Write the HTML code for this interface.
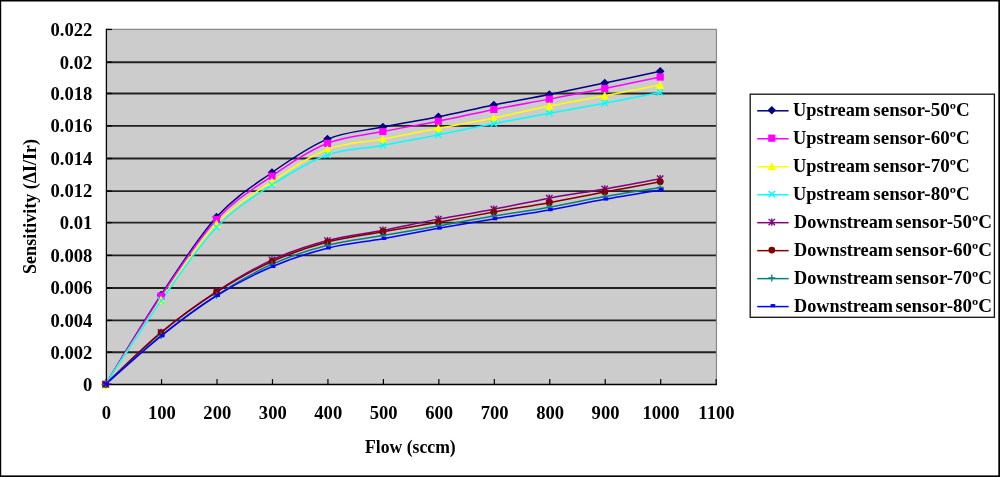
<!DOCTYPE html>
<html><head><meta charset="utf-8"><title>Sensitivity vs Flow</title>
<style>html,body{margin:0;padding:0;background:#fff;width:1000px;height:477px;overflow:hidden}</style>
</head><body>
<svg width="1000" height="477" viewBox="0 0 1000 477" style="display:block">
<rect x="0" y="0" width="1000" height="477" fill="#fff"/>
<rect x="106.4" y="29.44" width="610.06" height="354.86" fill="#CCCCCC"/>
<line x1="106.4" y1="352.2" x2="716.46" y2="352.2" stroke="#222" stroke-width="1.9"/>
<line x1="106.4" y1="320.4" x2="716.46" y2="320.4" stroke="#222" stroke-width="1.9"/>
<line x1="106.4" y1="288" x2="716.46" y2="288" stroke="#222" stroke-width="1.9"/>
<line x1="106.4" y1="255.4" x2="716.46" y2="255.4" stroke="#222" stroke-width="1.9"/>
<line x1="106.4" y1="222.6" x2="716.46" y2="222.6" stroke="#222" stroke-width="1.9"/>
<line x1="106.4" y1="191.1" x2="716.46" y2="191.1" stroke="#222" stroke-width="1.9"/>
<line x1="106.4" y1="158.5" x2="716.46" y2="158.5" stroke="#222" stroke-width="1.9"/>
<line x1="106.4" y1="125.9" x2="716.46" y2="125.9" stroke="#222" stroke-width="1.9"/>
<line x1="106.4" y1="93.45" x2="716.46" y2="93.45" stroke="#222" stroke-width="1.9"/>
<line x1="106.4" y1="62.2" x2="716.46" y2="62.2" stroke="#222" stroke-width="1.9"/>
<path d="M106.4,29.44 H716.46 V384.3" fill="none" stroke="#888" stroke-width="1.2"/>
<line x1="106.4" y1="28.84" x2="106.4" y2="384.3" stroke="#000" stroke-width="1.3"/>
<line x1="106.4" y1="384.5" x2="716.96" y2="384.5" stroke="#000" stroke-width="1.5"/>
<line x1="106.4" y1="384.3" x2="111.9" y2="384.3" stroke="#000" stroke-width="1.3"/>
<line x1="106.4" y1="352.2" x2="111.9" y2="352.2" stroke="#000" stroke-width="1.3"/>
<line x1="106.4" y1="320.4" x2="111.9" y2="320.4" stroke="#000" stroke-width="1.3"/>
<line x1="106.4" y1="288" x2="111.9" y2="288" stroke="#000" stroke-width="1.3"/>
<line x1="106.4" y1="255.4" x2="111.9" y2="255.4" stroke="#000" stroke-width="1.3"/>
<line x1="106.4" y1="222.6" x2="111.9" y2="222.6" stroke="#000" stroke-width="1.3"/>
<line x1="106.4" y1="191.1" x2="111.9" y2="191.1" stroke="#000" stroke-width="1.3"/>
<line x1="106.4" y1="158.5" x2="111.9" y2="158.5" stroke="#000" stroke-width="1.3"/>
<line x1="106.4" y1="125.9" x2="111.9" y2="125.9" stroke="#000" stroke-width="1.3"/>
<line x1="106.4" y1="93.45" x2="111.9" y2="93.45" stroke="#000" stroke-width="1.3"/>
<line x1="106.4" y1="62.2" x2="111.9" y2="62.2" stroke="#000" stroke-width="1.3"/>
<line x1="106.4" y1="29.45" x2="111.9" y2="29.45" stroke="#000" stroke-width="1.3"/>
<line x1="106.1" y1="384.3" x2="106.1" y2="379.1" stroke="#000" stroke-width="1.2"/>
<line x1="161.56" y1="384.3" x2="161.56" y2="379.1" stroke="#000" stroke-width="1.2"/>
<line x1="217.02" y1="384.3" x2="217.02" y2="379.1" stroke="#000" stroke-width="1.2"/>
<line x1="272.48" y1="384.3" x2="272.48" y2="379.1" stroke="#000" stroke-width="1.2"/>
<line x1="327.94" y1="384.3" x2="327.94" y2="379.1" stroke="#000" stroke-width="1.2"/>
<line x1="383.4" y1="384.3" x2="383.4" y2="379.1" stroke="#000" stroke-width="1.2"/>
<line x1="438.86" y1="384.3" x2="438.86" y2="379.1" stroke="#000" stroke-width="1.2"/>
<line x1="494.32" y1="384.3" x2="494.32" y2="379.1" stroke="#000" stroke-width="1.2"/>
<line x1="549.78" y1="384.3" x2="549.78" y2="379.1" stroke="#000" stroke-width="1.2"/>
<line x1="605.24" y1="384.3" x2="605.24" y2="379.1" stroke="#000" stroke-width="1.2"/>
<line x1="660.7" y1="384.3" x2="660.7" y2="379.1" stroke="#000" stroke-width="1.2"/>
<line x1="716.16" y1="384.3" x2="716.16" y2="379.1" stroke="#000" stroke-width="1.2"/>
<path d="M105.6,384.3 C114.84,369.41 142.57,322.82 161.06,294.94 C179.55,267.06 198.03,237.44 216.52,217.03 C235.01,196.63 253.49,185.5 271.98,172.51 C290.47,159.53 308.95,146.71 327.44,139.12 C345.93,131.54 364.41,130.76 382.9,127.03 C401.39,123.29 419.87,120.39 438.36,116.7 C456.85,113.02 475.33,108.64 493.82,104.93 C512.31,101.22 530.79,98.1 549.28,94.44 C567.77,90.79 586.25,86.86 604.74,82.99 C623.23,79.12 650.96,73.18 660.2,71.22" fill="none" stroke="#000080" stroke-width="1.5" stroke-linejoin="round"/>
<path d="M105.6,384.3 C114.84,369.59 142.57,323.54 161.06,296.07 C179.55,268.59 198.03,239.45 216.52,219.45 C235.01,199.45 253.49,188.75 271.98,176.06 C290.47,163.37 308.95,150.74 327.44,143.32 C345.93,135.9 364.41,135.23 382.9,131.54 C401.39,127.86 419.87,124.9 438.36,121.22 C456.85,117.54 475.33,113.13 493.82,109.44 C512.31,105.76 530.79,102.62 549.28,99.12 C567.77,95.63 586.25,92.16 604.74,88.48 C623.23,84.79 650.96,78.93 660.2,77.02" fill="none" stroke="#FF00FF" stroke-width="1.5" stroke-linejoin="round"/>
<path d="M105.6,384.3 C114.84,370.21 142.57,326.53 161.06,299.78 C179.55,273.03 198.03,243.49 216.52,223.81 C235.01,204.13 253.49,194.1 271.98,181.71 C290.47,169.31 308.95,156.54 327.44,149.45 C345.93,142.35 364.41,142.65 382.9,139.12 C401.39,135.6 419.87,131.84 438.36,128.32 C456.85,124.8 475.33,121.7 493.82,117.99 C512.31,114.28 530.79,109.77 549.28,106.06 C567.77,102.35 586.25,99.26 604.74,95.73 C623.23,92.21 650.96,86.73 660.2,84.93" fill="none" stroke="#FFFF00" stroke-width="1.5" stroke-linejoin="round"/>
<path d="M105.6,384.3 C114.84,370.37 142.57,326.93 161.06,300.75 C179.55,274.56 198.03,246.5 216.52,227.19 C235.01,207.89 253.49,196.98 271.98,184.93 C290.47,172.89 308.95,161.52 327.44,154.93 C345.93,148.34 364.41,148.78 382.9,145.41 C401.39,142.05 419.87,138.4 438.36,134.77 C456.85,131.14 475.33,127.24 493.82,123.64 C512.31,120.04 530.79,116.57 549.28,113.15 C567.77,109.74 586.25,106.6 604.74,103.15 C623.23,99.71 650.96,94.28 660.2,92.51" fill="none" stroke="#00FFFF" stroke-width="1.5" stroke-linejoin="round"/>
<path d="M105.6,384.3 C114.84,375.64 142.57,347.82 161.06,332.36 C179.55,316.9 198.03,303.62 216.52,291.55 C235.01,279.48 253.49,268.43 271.98,259.94 C290.47,251.44 308.95,245.53 327.44,240.58 C345.93,235.64 364.41,233.83 382.9,230.26 C401.39,226.68 419.87,222.62 438.36,219.13 C456.85,215.63 475.33,212.78 493.82,209.29 C512.31,205.79 530.79,201.55 549.28,198.16 C567.77,194.77 586.25,192.22 604.74,188.97 C623.23,185.71 650.96,180.36 660.2,178.64" fill="none" stroke="#800080" stroke-width="1.5" stroke-linejoin="round"/>
<path d="M105.6,384.3 C114.84,375.7 142.57,348.03 161.06,332.68 C179.55,317.33 198.03,304.05 216.52,292.2 C235.01,280.34 253.49,269.91 271.98,261.55 C290.47,253.19 308.95,247.01 327.44,242.03 C345.93,237.06 364.41,234.99 382.9,231.71 C401.39,228.43 419.87,225.63 438.36,222.35 C456.85,219.08 475.33,215.31 493.82,212.03 C512.31,208.75 530.79,206.01 549.28,202.68 C567.77,199.34 586.25,195.53 604.74,192.03 C623.23,188.54 650.96,183.43 660.2,181.71" fill="none" stroke="#800000" stroke-width="1.5" stroke-linejoin="round"/>
<path d="M105.6,384.3 C114.84,376.18 142.57,350.43 161.06,335.59 C179.55,320.75 198.03,307.14 216.52,295.26 C235.01,283.38 253.49,272.63 271.98,264.29 C290.47,255.96 308.95,250.04 327.44,245.26 C345.93,240.47 364.41,238.81 382.9,235.58 C401.39,232.36 419.87,229.16 438.36,225.9 C456.85,222.65 475.33,219.18 493.82,216.06 C512.31,212.95 530.79,210.45 549.28,207.19 C567.77,203.94 586.25,199.83 604.74,196.55 C623.23,193.27 650.96,189.02 660.2,187.51" fill="none" stroke="#008080" stroke-width="1.5" stroke-linejoin="round"/>
<path d="M105.6,384.3 C114.84,376.26 142.57,350.83 161.06,336.07 C179.55,321.31 198.03,307.31 216.52,295.75 C235.01,284.19 253.49,274.64 271.98,266.71 C290.47,258.78 308.95,252.84 327.44,248.16 C345.93,243.49 364.41,241.95 382.9,238.65 C401.39,235.34 419.87,231.6 438.36,228.32 C456.85,225.04 475.33,222.03 493.82,218.97 C512.31,215.9 530.79,213.21 549.28,209.93 C567.77,206.65 586.25,202.62 604.74,199.29 C623.23,195.96 650.96,191.49 660.2,189.93" fill="none" stroke="#0000FF" stroke-width="1.5" stroke-linejoin="round"/>
<path d="M105.6,380 L109.9,384.3 L105.6,388.6 L101.3,384.3 Z" fill="#000080"/>
<path d="M161.06,290.64 L165.36,294.94 L161.06,299.24 L156.76,294.94 Z" fill="#000080"/>
<path d="M216.52,212.73 L220.82,217.03 L216.52,221.33 L212.22,217.03 Z" fill="#000080"/>
<path d="M271.98,168.21 L276.28,172.51 L271.98,176.81 L267.68,172.51 Z" fill="#000080"/>
<path d="M327.44,134.82 L331.74,139.12 L327.44,143.42 L323.14,139.12 Z" fill="#000080"/>
<path d="M382.9,122.73 L387.2,127.03 L382.9,131.33 L378.6,127.03 Z" fill="#000080"/>
<path d="M438.36,112.4 L442.66,116.7 L438.36,121 L434.06,116.7 Z" fill="#000080"/>
<path d="M493.82,100.63 L498.12,104.93 L493.82,109.23 L489.52,104.93 Z" fill="#000080"/>
<path d="M549.28,90.14 L553.58,94.44 L549.28,98.74 L544.98,94.44 Z" fill="#000080"/>
<path d="M604.74,78.69 L609.04,82.99 L604.74,87.29 L600.44,82.99 Z" fill="#000080"/>
<path d="M660.2,66.92 L664.5,71.22 L660.2,75.52 L655.9,71.22 Z" fill="#000080"/>
<rect x="102" y="380.7" width="7.2" height="7.2" fill="#FF00FF"/>
<rect x="157.46" y="292.47" width="7.2" height="7.2" fill="#FF00FF"/>
<rect x="212.92" y="215.85" width="7.2" height="7.2" fill="#FF00FF"/>
<rect x="268.38" y="172.46" width="7.2" height="7.2" fill="#FF00FF"/>
<rect x="323.84" y="139.72" width="7.2" height="7.2" fill="#FF00FF"/>
<rect x="379.3" y="127.94" width="7.2" height="7.2" fill="#FF00FF"/>
<rect x="434.76" y="117.62" width="7.2" height="7.2" fill="#FF00FF"/>
<rect x="490.22" y="105.84" width="7.2" height="7.2" fill="#FF00FF"/>
<rect x="545.68" y="95.52" width="7.2" height="7.2" fill="#FF00FF"/>
<rect x="601.14" y="84.88" width="7.2" height="7.2" fill="#FF00FF"/>
<rect x="656.6" y="73.42" width="7.2" height="7.2" fill="#FF00FF"/>
<path d="M105.6,380.1 L109.9,388.4 L101.3,388.4 Z" fill="#FFFF00"/>
<path d="M161.06,295.58 L165.36,303.88 L156.76,303.88 Z" fill="#FFFF00"/>
<path d="M216.52,219.61 L220.82,227.91 L212.22,227.91 Z" fill="#FFFF00"/>
<path d="M271.98,177.51 L276.28,185.81 L267.68,185.81 Z" fill="#FFFF00"/>
<path d="M327.44,145.25 L331.74,153.55 L323.14,153.55 Z" fill="#FFFF00"/>
<path d="M382.9,134.92 L387.2,143.22 L378.6,143.22 Z" fill="#FFFF00"/>
<path d="M438.36,124.12 L442.66,132.42 L434.06,132.42 Z" fill="#FFFF00"/>
<path d="M493.82,113.79 L498.12,122.09 L489.52,122.09 Z" fill="#FFFF00"/>
<path d="M549.28,101.86 L553.58,110.16 L544.98,110.16 Z" fill="#FFFF00"/>
<path d="M604.74,91.53 L609.04,99.83 L600.44,99.83 Z" fill="#FFFF00"/>
<path d="M660.2,80.73 L664.5,89.03 L655.9,89.03 Z" fill="#FFFF00"/>
<path d="M102.4,381.1 L108.8,387.5 M102.4,387.5 L108.8,381.1" stroke="#00FFFF" stroke-width="1.4"/>
<path d="M157.86,297.55 L164.26,303.95 M157.86,303.95 L164.26,297.55" stroke="#00FFFF" stroke-width="1.4"/>
<path d="M213.32,223.99 L219.72,230.39 M213.32,230.39 L219.72,223.99" stroke="#00FFFF" stroke-width="1.4"/>
<path d="M268.78,181.73 L275.18,188.13 M268.78,188.13 L275.18,181.73" stroke="#00FFFF" stroke-width="1.4"/>
<path d="M324.24,151.73 L330.64,158.13 M324.24,158.13 L330.64,151.73" stroke="#00FFFF" stroke-width="1.4"/>
<path d="M379.7,142.21 L386.1,148.61 M379.7,148.61 L386.1,142.21" stroke="#00FFFF" stroke-width="1.4"/>
<path d="M435.16,131.57 L441.56,137.97 M435.16,137.97 L441.56,131.57" stroke="#00FFFF" stroke-width="1.4"/>
<path d="M490.62,120.44 L497.02,126.84 M490.62,126.84 L497.02,120.44" stroke="#00FFFF" stroke-width="1.4"/>
<path d="M546.08,109.95 L552.48,116.35 M546.08,116.35 L552.48,109.95" stroke="#00FFFF" stroke-width="1.4"/>
<path d="M601.54,99.95 L607.94,106.35 M601.54,106.35 L607.94,99.95" stroke="#00FFFF" stroke-width="1.4"/>
<path d="M657,89.31 L663.4,95.71 M657,95.71 L663.4,89.31" stroke="#00FFFF" stroke-width="1.4"/>
<path d="M102.4,381.1 L108.8,387.5 M102.4,387.5 L108.8,381.1 M105.6,380.6 L105.6,388" stroke="#800080" stroke-width="1.4"/>
<path d="M157.86,329.16 L164.26,335.56 M157.86,335.56 L164.26,329.16 M161.06,328.66 L161.06,336.06" stroke="#800080" stroke-width="1.4"/>
<path d="M213.32,288.35 L219.72,294.75 M213.32,294.75 L219.72,288.35 M216.52,287.85 L216.52,295.25" stroke="#800080" stroke-width="1.4"/>
<path d="M268.78,256.74 L275.18,263.14 M268.78,263.14 L275.18,256.74 M271.98,256.24 L271.98,263.64" stroke="#800080" stroke-width="1.4"/>
<path d="M324.24,237.38 L330.64,243.78 M324.24,243.78 L330.64,237.38 M327.44,236.88 L327.44,244.28" stroke="#800080" stroke-width="1.4"/>
<path d="M379.7,227.06 L386.1,233.46 M379.7,233.46 L386.1,227.06 M382.9,226.56 L382.9,233.96" stroke="#800080" stroke-width="1.4"/>
<path d="M435.16,215.93 L441.56,222.33 M435.16,222.33 L441.56,215.93 M438.36,215.43 L438.36,222.83" stroke="#800080" stroke-width="1.4"/>
<path d="M490.62,206.09 L497.02,212.49 M490.62,212.49 L497.02,206.09 M493.82,205.59 L493.82,212.99" stroke="#800080" stroke-width="1.4"/>
<path d="M546.08,194.96 L552.48,201.36 M546.08,201.36 L552.48,194.96 M549.28,194.46 L549.28,201.86" stroke="#800080" stroke-width="1.4"/>
<path d="M601.54,185.77 L607.94,192.17 M601.54,192.17 L607.94,185.77 M604.74,185.27 L604.74,192.67" stroke="#800080" stroke-width="1.4"/>
<path d="M657,175.44 L663.4,181.84 M657,181.84 L663.4,175.44 M660.2,174.94 L660.2,182.34" stroke="#800080" stroke-width="1.4"/>
<circle cx="105.6" cy="384.3" r="3.4" fill="#800000"/>
<circle cx="161.06" cy="332.68" r="3.4" fill="#800000"/>
<circle cx="216.52" cy="292.2" r="3.4" fill="#800000"/>
<circle cx="271.98" cy="261.55" r="3.4" fill="#800000"/>
<circle cx="327.44" cy="242.03" r="3.4" fill="#800000"/>
<circle cx="382.9" cy="231.71" r="3.4" fill="#800000"/>
<circle cx="438.36" cy="222.35" r="3.4" fill="#800000"/>
<circle cx="493.82" cy="212.03" r="3.4" fill="#800000"/>
<circle cx="549.28" cy="202.68" r="3.4" fill="#800000"/>
<circle cx="604.74" cy="192.03" r="3.4" fill="#800000"/>
<circle cx="660.2" cy="181.71" r="3.4" fill="#800000"/>
<path d="M102.2,384.3 L109,384.3 M105.6,380.9 L105.6,387.7" stroke="#008080" stroke-width="1.3"/>
<path d="M157.66,335.59 L164.46,335.59 M161.06,332.19 L161.06,338.99" stroke="#008080" stroke-width="1.3"/>
<path d="M213.12,295.26 L219.92,295.26 M216.52,291.86 L216.52,298.66" stroke="#008080" stroke-width="1.3"/>
<path d="M268.58,264.29 L275.38,264.29 M271.98,260.89 L271.98,267.69" stroke="#008080" stroke-width="1.3"/>
<path d="M324.04,245.26 L330.84,245.26 M327.44,241.86 L327.44,248.66" stroke="#008080" stroke-width="1.3"/>
<path d="M379.5,235.58 L386.3,235.58 M382.9,232.18 L382.9,238.98" stroke="#008080" stroke-width="1.3"/>
<path d="M434.96,225.9 L441.76,225.9 M438.36,222.5 L438.36,229.3" stroke="#008080" stroke-width="1.3"/>
<path d="M490.42,216.06 L497.22,216.06 M493.82,212.66 L493.82,219.46" stroke="#008080" stroke-width="1.3"/>
<path d="M545.88,207.19 L552.68,207.19 M549.28,203.79 L549.28,210.59" stroke="#008080" stroke-width="1.3"/>
<path d="M601.34,196.55 L608.14,196.55 M604.74,193.15 L604.74,199.95" stroke="#008080" stroke-width="1.3"/>
<path d="M656.8,187.51 L663.6,187.51 M660.2,184.11 L660.2,190.91" stroke="#008080" stroke-width="1.3"/>
<rect x="104.4" y="382.4" width="4.6" height="3.2" fill="#0000FF"/>
<rect x="159.86" y="334.17" width="4.6" height="3.2" fill="#0000FF"/>
<rect x="215.32" y="293.85" width="4.6" height="3.2" fill="#0000FF"/>
<rect x="270.78" y="264.81" width="4.6" height="3.2" fill="#0000FF"/>
<rect x="326.24" y="246.26" width="4.6" height="3.2" fill="#0000FF"/>
<rect x="381.7" y="236.75" width="4.6" height="3.2" fill="#0000FF"/>
<rect x="437.16" y="226.42" width="4.6" height="3.2" fill="#0000FF"/>
<rect x="492.62" y="217.07" width="4.6" height="3.2" fill="#0000FF"/>
<rect x="548.08" y="208.03" width="4.6" height="3.2" fill="#0000FF"/>
<rect x="603.54" y="197.39" width="4.6" height="3.2" fill="#0000FF"/>
<rect x="659" y="188.03" width="4.6" height="3.2" fill="#0000FF"/>
<g font-family="Liberation Serif, serif" font-weight="bold" font-size="18.6" text-anchor="end" fill="#000">
<text x="92.3" y="390.65">0</text>
<text x="92.3" y="358.55">0.002</text>
<text x="92.3" y="326.75">0.004</text>
<text x="92.3" y="294.35">0.006</text>
<text x="92.3" y="261.75">0.008</text>
<text x="92.3" y="228.95">0.01</text>
<text x="92.3" y="197.45">0.012</text>
<text x="92.3" y="164.85">0.014</text>
<text x="92.3" y="132.25">0.016</text>
<text x="92.3" y="99.8">0.018</text>
<text x="92.3" y="68.55">0.02</text>
<text x="92.3" y="35.8">0.022</text>
</g>
<g font-family="Liberation Serif, serif" font-weight="bold" font-size="18.6" text-anchor="middle" fill="#000">
<text x="106.4" y="419.3">0</text>
<text x="161.86" y="419.3">100</text>
<text x="217.32" y="419.3">200</text>
<text x="272.78" y="419.3">300</text>
<text x="328.24" y="419.3">400</text>
<text x="383.7" y="419.3">500</text>
<text x="439.16" y="419.3">600</text>
<text x="494.62" y="419.3">700</text>
<text x="550.08" y="419.3">800</text>
<text x="605.54" y="419.3">900</text>
<text x="661" y="419.3">1000</text>
<text x="716.46" y="419.3">1100</text>
</g>
<text font-family="Liberation Serif, serif" font-weight="bold" font-size="18.6" text-anchor="middle" transform="translate(410.4,452.9) scale(0.95,1)">Flow (sccm)</text>
<text font-family="Liberation Serif, serif" font-weight="bold" font-size="18.6" text-anchor="middle" transform="translate(36,206.4) rotate(-90) scale(0.97,1)">Sensitivity (ΔI/Ir)</text>
<rect x="750.2" y="94.2" width="244.2" height="223.1" fill="#fff" stroke="#111" stroke-width="1.3"/>
<line x1="757.2" y1="110.8" x2="788.6" y2="110.8" stroke="#000080" stroke-width="1.5"/>
<path d="M771.8,105.9 L776.1,110.2 L771.8,114.5 L767.5,110.2 Z" fill="#000080"/>
<text font-family="Liberation Serif, serif" font-weight="bold" font-size="18.6" transform="translate(793,116.1) scale(0.988,1)">Upstream </text>
<text font-family="Liberation Serif, serif" font-weight="bold" font-size="18.6" transform="translate(873.3,116.1) scale(1.023,1)">sensor-50ºC</text>
<line x1="757.2" y1="138.77" x2="788.6" y2="138.77" stroke="#FF00FF" stroke-width="1.5"/>
<rect x="768.2" y="134.57" width="7.2" height="7.2" fill="#FF00FF"/>
<text font-family="Liberation Serif, serif" font-weight="bold" font-size="18.6" transform="translate(793,144.07) scale(0.988,1)">Upstream </text>
<text font-family="Liberation Serif, serif" font-weight="bold" font-size="18.6" transform="translate(873.3,144.07) scale(1.023,1)">sensor-60ºC</text>
<line x1="757.2" y1="166.74" x2="788.6" y2="166.74" stroke="#FFFF00" stroke-width="1.5"/>
<path d="M771.8,161.94 L776.1,170.24 L767.5,170.24 Z" fill="#FFFF00"/>
<text font-family="Liberation Serif, serif" font-weight="bold" font-size="18.6" transform="translate(793,172.04) scale(0.988,1)">Upstream </text>
<text font-family="Liberation Serif, serif" font-weight="bold" font-size="18.6" transform="translate(873.3,172.04) scale(1.023,1)">sensor-70ºC</text>
<line x1="757.2" y1="194.71" x2="788.6" y2="194.71" stroke="#00FFFF" stroke-width="1.5"/>
<path d="M768.6,190.91 L775,197.31 M768.6,197.31 L775,190.91" stroke="#00FFFF" stroke-width="1.4"/>
<text font-family="Liberation Serif, serif" font-weight="bold" font-size="18.6" transform="translate(793,200.01) scale(0.988,1)">Upstream </text>
<text font-family="Liberation Serif, serif" font-weight="bold" font-size="18.6" transform="translate(873.3,200.01) scale(1.023,1)">sensor-80ºC</text>
<line x1="757.2" y1="222.68" x2="788.6" y2="222.68" stroke="#800080" stroke-width="1.5"/>
<path d="M768.6,218.88 L775,225.28 M768.6,225.28 L775,218.88 M771.8,218.38 L771.8,225.78" stroke="#800080" stroke-width="1.4"/>
<text font-family="Liberation Serif, serif" font-weight="bold" font-size="18.6" transform="translate(794,227.98) scale(0.982,1)">Downstream </text>
<text font-family="Liberation Serif, serif" font-weight="bold" font-size="18.6" transform="translate(895.6,227.98) scale(1.023,1)">sensor-50ºC</text>
<line x1="757.2" y1="250.65" x2="788.6" y2="250.65" stroke="#800000" stroke-width="1.5"/>
<circle cx="771.8" cy="250.05" r="3.4" fill="#800000"/>
<text font-family="Liberation Serif, serif" font-weight="bold" font-size="18.6" transform="translate(794,255.95) scale(0.982,1)">Downstream </text>
<text font-family="Liberation Serif, serif" font-weight="bold" font-size="18.6" transform="translate(895.6,255.95) scale(1.023,1)">sensor-60ºC</text>
<line x1="757.2" y1="278.62" x2="788.6" y2="278.62" stroke="#008080" stroke-width="1.5"/>
<path d="M768.4,278.02 L775.2,278.02 M771.8,274.62 L771.8,281.42" stroke="#008080" stroke-width="1.3"/>
<text font-family="Liberation Serif, serif" font-weight="bold" font-size="18.6" transform="translate(794,283.92) scale(0.982,1)">Downstream </text>
<text font-family="Liberation Serif, serif" font-weight="bold" font-size="18.6" transform="translate(895.6,283.92) scale(1.023,1)">sensor-70ºC</text>
<line x1="757.2" y1="306.59" x2="788.6" y2="306.59" stroke="#0000FF" stroke-width="1.5"/>
<rect x="770.6" y="304.09" width="4.6" height="3.2" fill="#0000FF"/>
<text font-family="Liberation Serif, serif" font-weight="bold" font-size="18.6" transform="translate(794,311.89) scale(0.982,1)">Downstream </text>
<text font-family="Liberation Serif, serif" font-weight="bold" font-size="18.6" transform="translate(895.6,311.89) scale(1.023,1)">sensor-80ºC</text>
<rect x="0" y="0" width="1000" height="1.5" fill="#000"/>
<rect x="0" y="0" width="1.2" height="477" fill="#000"/>
<rect x="998.3" y="0.8" width="1.7" height="476.2" fill="#000"/>
<rect x="0.8" y="475.4" width="999.2" height="1.6" fill="#000"/>
</svg>
</body></html>
